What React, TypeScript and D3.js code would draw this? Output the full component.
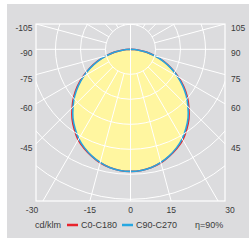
import React, { useEffect, useRef } from "react";
import * as d3 from "d3";

// luminous intensity (cd/klm) every 5 deg from nadir, symmetric
const angles = [0, 5, 10, 15, 20, 25, 30, 35, 40, 45, 50, 55, 60, 65, 70, 75, 80, 85, 90];
const c0c180 = [293, 292, 288, 282, 273, 263, 251, 235, 218, 198, 178, 156, 132, 108, 85, 61, 39, 18, 0];
const c90c270 = [293, 292, 288, 281, 272, 261, 248, 232, 215, 195, 175, 153, 130, 107, 84, 60, 38, 17, 0];

const rings = [60, 120, 180, 240, 300, 360];
const sideLabels = [105, 90, 75, 60, 45];
const bottomLabels = [-30, -15, 0, 15, 30];

const series = [
  { name: "C0-C180", values: c0c180, color: "#e8232c" },
  { name: "C90-C270", values: c90c270, color: "#26a7e1" },
];
const efficiency = "η=90%";
const unit = "cd/klm";

function App() {
  const ref = useRef<SVGSVGElement>(null);

  useEffect(() => {
    const svg = d3.select(ref.current);
    svg.selectAll("*").remove();

    const [width, height] = [249, 248];
    const frame = { x0: 36, x1: 225, y0: 24, y1: 201 };
    const cx = (frame.x0 + frame.x1) / 2;
    const cy = 49.3;
    const font = "'Liberation Sans', Arial, sans-serif";
    const textColor = "#3a3a3a";

    const r = d3.scaleLinear().domain([0, 360]).range([0, 150]);

    svg
      .append("rect")
      .attr("x", 7)
      .attr("y", 4)
      .attr("width", width - 7)
      .attr("height", 234)
      .attr("fill", "#dcdcde");

    svg
      .append("clipPath")
      .attr("id", "frame-clip")
      .append("rect")
      .attr("x", frame.x0)
      .attr("y", frame.y0)
      .attr("width", frame.x1 - frame.x0)
      .attr("height", frame.y1 - frame.y0);

    // full angle list from -90 to 90 (deg from nadir)
    const full = (vals: number[]) => {
      const pts: { a: number; v: number }[] = [];
      for (let i = angles.length - 1; i > 0; i--) pts.push({ a: -angles[i], v: vals[i] });
      for (let i = 0; i < angles.length; i++) pts.push({ a: angles[i], v: vals[i] });
      return pts;
    };

    const radial = d3
      .lineRadial<{ a: number; v: number }>()
      .angle((d) => Math.PI - (d.a * Math.PI) / 180)
      .radius((d) => r(d.v))
      .curve(d3.curveCatmullRom);

    const plot = svg.append("g").attr("transform", `translate(${cx},${cy})`);

    // fill
    plot
      .append("path")
      .attr("d", radial(full(c0c180)) + "Z")
      .attr("fill", "#fff6a0");

    // grid
    const grid = svg.append("g").attr("clip-path", "url(#frame-clip)");
    const gg = grid.append("g").attr("transform", `translate(${cx},${cy})`);
    gg.selectAll("circle")
      .data(rings)
      .join("circle")
      .attr("r", (d) => r(d))
      .attr("fill", "none")
      .attr("stroke", "#fff")
      .attr("stroke-width", 1);

    const spokes = d3.range(0, 360, 15);
    gg.selectAll("line")
      .data(spokes)
      .join("line")
      .attr("x1", (d) => (d % 180 === 0 ? 0 : r(rings[0]) * Math.sin((d * Math.PI) / 180)))
      .attr("y1", (d) => (d % 180 === 0 ? 0 : r(rings[0]) * Math.cos((d * Math.PI) / 180)))
      .attr("x2", (d) => 400 * Math.sin((d * Math.PI) / 180))
      .attr("y2", (d) => 400 * Math.cos((d * Math.PI) / 180))
      .attr("stroke", "#fff")
      .attr("stroke-width", 1);

    svg
      .append("rect")
      .attr("x", frame.x0)
      .attr("y", frame.y0)
      .attr("width", frame.x1 - frame.x0)
      .attr("height", frame.y1 - frame.y0)
      .attr("fill", "none")
      .attr("stroke", "#fff")
      .attr("stroke-width", 1.2);

    // curves
    series.forEach((s) => {
      plot
        .append("path")
        .attr("d", radial(full(s.values)))
        .attr("fill", "none")
        .attr("stroke", s.color)
        .attr("stroke-width", 1.6);
    });

    // side labels
    sideLabels.forEach((a) => {
      const rad = (a * Math.PI) / 180;
      const y = cy + ((frame.x1 - cx) * Math.cos(rad)) / Math.sin(rad) + 4;
      svg
        .append("text")
        .attr("x", frame.x1 + 6)
        .attr("y", y + 3)
        .attr("font-family", font)
        .attr("font-size", 8.5)
        .attr("fill", textColor)
        .text(String(a));
      svg
        .append("text")
        .attr("x", frame.x0 - 3.5)
        .attr("y", y + 3)
        .attr("text-anchor", "end")
        .attr("font-family", font)
        .attr("font-size", 8.5)
        .attr("fill", textColor)
        .text(String(-a));
    });

    // bottom labels
    const outer = d3.max(bottomLabels) as number;
    bottomLabels.forEach((a) => {
      const rad = (a * Math.PI) / 180;
      let x = cx + (frame.y1 - cy) * Math.tan(rad);
      if (a === outer) x = frame.x1 + 5;
      if (a === -outer) x = frame.x0 - 4;
      svg
        .append("text")
        .attr("x", x)
        .attr("y", 213)
        .attr("text-anchor", "middle")
        .attr("font-family", font)
        .attr("font-size", 8.5)
        .attr("fill", textColor)
        .text(String(a));
    });

    // legend
    const ly = 225;
    const legendText = (x: number, t: string) =>
      svg
        .append("text")
        .attr("x", x)
        .attr("y", ly + 3.2)
        .attr("font-family", font)
        .attr("font-size", 9)
        .attr("fill", textColor)
        .text(t);
    legendText(35, unit);
    const starts = [67, 122];
    series.forEach((s, i) => {
      svg
        .append("line")
        .attr("x1", starts[i])
        .attr("x2", starts[i] + 11)
        .attr("y1", ly)
        .attr("y2", ly)
        .attr("stroke", s.color)
        .attr("stroke-width", 2.5);
      legendText(starts[i] + 14, s.name);
    });
    legendText(195, efficiency);
  }, []);

  return (
    <div style={{ position: "absolute", left: 0, top: 0 }}>
      <svg ref={ref} width={249} height={248} style={{ display: "block" }} />
    </div>
  );
}

export default App;
